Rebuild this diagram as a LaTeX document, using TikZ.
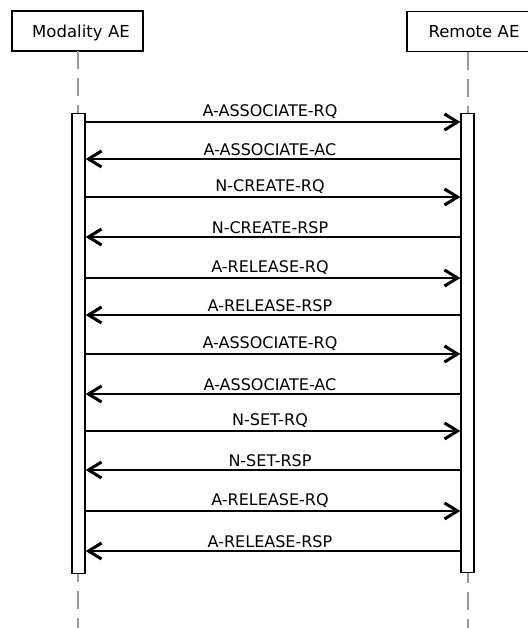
\documentclass[tikz,border=0pt]{standalone}
\usepackage{fontspec}
\setmainfont{DejaVu Sans}
\usepackage{tikz}
\usetikzlibrary{positioning,arrows.meta,calc}

\begin{document}
\begin{tikzpicture}[
  x=1pt, y=-1pt,
  aeBox/.style={draw, line width=1.1pt, minimum width=131pt, minimum height=40pt,
                inner sep=0pt, font=\fontsize{16.5}{19}\selectfont, text depth=0pt},
  lifeLine/.style={draw=gray!80, line width=1.2pt, dash pattern=on 18pt off 9pt},
  actBar/.style={draw, fill=white, line width=1.3pt, minimum width=13pt,
                 inner sep=0pt},
  msg/.style={line width=1.7pt,
              -{Straight Barb[length=13pt,width=16pt,line width=3pt]}},
  msgLabel/.style={above=2.5pt, xshift=-3pt, inner sep=0pt,
                   font=\fontsize{16}{19}\selectfont}
]
  \useasboundingbox (0,0) rectangle (527,628);

  % === Participants ===
  \node[aeBox, text width=131pt, align=center] (modality) at (77.5,31)
    {\hspace*{7pt}Modality AE};
  \node[aeBox, text width=131pt, align=center] (remote) at (472.5,31.5)
    {\hspace*{3pt}Remote AE};

  % Lifelines (behind the bars)
  \coordinate (modTop) at (78,51);
  \coordinate (modEnd) at (78,628);
  \coordinate (remTop) at (468,52);
  \coordinate (remEnd) at (468,628);
  \draw[lifeLine] (modTop) -- (modEnd);
  \draw[lifeLine] (remTop) -- (remEnd);

  % Activation bars
  \node[actBar, minimum height=460pt, anchor=north] (modBar) at (78.5,113) {};
  \node[actBar, minimum height=459pt, anchor=north] (remBar) at (467.5,113) {};

  % === Messages ===
  \coordinate (m1) at (modBar.east |- 0,122);  \coordinate (r1) at (remBar.west |- 0,122);
  \coordinate (m2) at (modBar.east |- 0,159);  \coordinate (r2) at (remBar.west |- 0,159);
  \coordinate (m3) at (modBar.east |- 0,197);  \coordinate (r3) at (remBar.west |- 0,197);
  \coordinate (m4) at (modBar.east |- 0,237);  \coordinate (r4) at (remBar.west |- 0,237);
  \coordinate (m5) at (modBar.east |- 0,278);  \coordinate (r5) at (remBar.west |- 0,278);
  \coordinate (m6) at (modBar.east |- 0,315);  \coordinate (r6) at (remBar.west |- 0,315);
  \coordinate (m7) at (modBar.east |- 0,354);  \coordinate (r7) at (remBar.west |- 0,354);
  \coordinate (m8) at (modBar.east |- 0,394);  \coordinate (r8) at (remBar.west |- 0,394);
  \coordinate (m9) at (modBar.east |- 0,431);  \coordinate (r9) at (remBar.west |- 0,431);
  \coordinate (m10) at (modBar.east |- 0,470); \coordinate (r10) at (remBar.west |- 0,470);
  \coordinate (m11) at (modBar.east |- 0,511); \coordinate (r11) at (remBar.west |- 0,511);
  \coordinate (m12) at (modBar.east |- 0,551); \coordinate (r12) at (remBar.west |- 0,551);

  % first association: create
  \draw[msg] (m1) -- node[msgLabel] {A-ASSOCIATE-RQ} (r1);
  \draw[msg] (r2) -- node[msgLabel] {A-ASSOCIATE-AC} (m2);
  \draw[msg] (m3) -- node[msgLabel] {N-CREATE-RQ} (r3);
  \draw[msg] (r4) -- node[msgLabel] {N-CREATE-RSP} (m4);
  \draw[msg] (m5) -- node[msgLabel] {A-RELEASE-RQ} (r5);
  \draw[msg] (r6) -- node[msgLabel] {A-RELEASE-RSP} (m6);

  % second association: set
  \draw[msg] (m7) -- node[msgLabel] {A-ASSOCIATE-RQ} (r7);
  \draw[msg] (r8) -- node[msgLabel] {A-ASSOCIATE-AC} (m8);
  \draw[msg] (m9) -- node[msgLabel] {N-SET-RQ} (r9);
  \draw[msg] (r10) -- node[msgLabel] {N-SET-RSP} (m10);
  \draw[msg] (m11) -- node[msgLabel] {A-RELEASE-RQ} (r11);
  \draw[msg] (r12) -- node[msgLabel] {A-RELEASE-RSP} (m12);
\end{tikzpicture}
\end{document}
